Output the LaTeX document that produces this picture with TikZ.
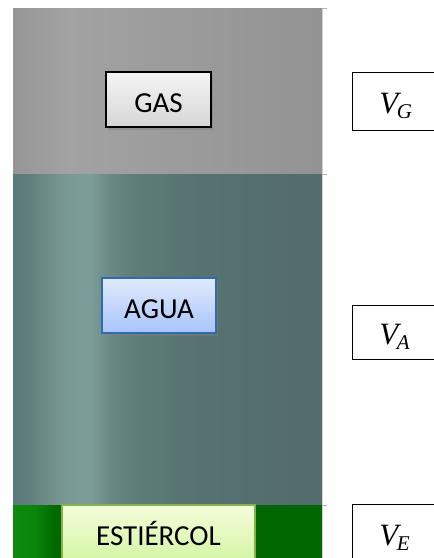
\documentclass[tikz,border=0pt]{standalone}
\usepackage{fontspec}
\setmainfont{Carlito}
\newfontfamily\vfont{Liberation Serif}
\usetikzlibrary{shadows}
\definecolor{wA}{HTML}{5A7A77}
\definecolor{wB}{HTML}{617F7C}
\definecolor{wC}{HTML}{7A9995}
\definecolor{wD}{HTML}{7D9D99}
\definecolor{wE}{HTML}{6A8985}
\definecolor{wF}{HTML}{5E7C79}
\definecolor{wG}{HTML}{567270}
\definecolor{wH}{HTML}{536B6B}
\definecolor{gA}{HTML}{969696}
\definecolor{gB}{HTML}{A2A2A2}
\definecolor{gC}{HTML}{A0A0A0}
\definecolor{gD}{HTML}{939393}
\definecolor{eA}{HTML}{0E8A0E}
\definecolor{eB}{HTML}{0A850A}
\definecolor{eC}{HTML}{006A00}
\definecolor{eD}{HTML}{006600}
\pgfdeclarehorizontalshading{watershade}{100bp}{color(0bp)=(wA); color(25bp)=(wA); color(27.75bp)=(wB); color(33.4bp)=(wC); color(37.5bp)=(wD); color(40.7bp)=(wE); color(44.75bp)=(wF); color(55.25bp)=(wG); color(75bp)=(wH); color(100bp)=(wH)}
\pgfdeclarehorizontalshading{gasshade}{100bp}{color(0bp)=(gA); color(25bp)=(gA); color(34bp)=(gB); color(39bp)=(gC); color(75bp)=(gD); color(100bp)=(gD)}
\pgfdeclarehorizontalshading{greenshade}{100bp}{color(0bp)=(eA); color(25bp)=(eA); color(28.5bp)=(eB); color(31.8bp)=(eC); color(75bp)=(eD); color(100bp)=(eD)}
\newcommand{\vsym}[1]{{\vfont\itshape V\kern-1.5pt\raisebox{-5pt}{\fontsize{21}{24}\selectfont #1}}}
\tikzset{
  basebox/.style={rectangle, font=\fontsize{29}{34}\selectfont, inner sep=0pt,
    text height=25pt, text depth=0pt, minimum height=55pt},
  labelbox/.style={basebox,
    drop shadow={opacity=0.45, shadow xshift=2pt, shadow yshift=-3pt}},
  gasbox/.style={labelbox, draw=black, line width=1.8pt, top color=gray!8, bottom color=gray!32},
  aguabox/.style={labelbox, draw=blue!55!cyan!60!black!80, line width=1.4pt, top color={rgb,255:red,224;green,234;blue,252}, bottom color={rgb,255:red,168;green,196;blue,250}},
  estbox/.style={basebox, draw={rgb,255:red,138;green,176;blue,74}, line width=1.4pt, top color={rgb,255:red,245;green,253;blue,220}, bottom color={rgb,255:red,213;green,245;blue,165}},
  vbox/.style={rectangle, draw=black, line width=0.8pt, fill=white, anchor=west, align=left,
    text width=60pt, inner xsep=27pt, inner ysep=0pt, text height=24pt, text depth=0pt,
    font=\fontsize{31}{36}\selectfont},
  tickmark/.style={draw=gray!60, line width=0.8pt}
}
\begin{document}
\begin{tikzpicture}[x=1pt,y=-1pt]
\useasboundingbox (0,0) rectangle (434,558);
\clip (0,0) rectangle (434,558);
% layers
\path[shading=gasshade] (13,8) rectangle (322,174);
\path[shading=watershade] (13,174) rectangle (322,505);
\path[shading=greenshade] (13,505) rectangle (322,560);
\draw[draw=gray!35, line width=0.8pt] (322,8) -- (322,560);
% ticks
\coordinate (t1) at (322,8);
\coordinate (t2) at (322,174);
\coordinate (t3) at (322,505);
\draw[tickmark] (t1) -- ++(5,0);
\draw[tickmark] (t2) -- ++(5,0);
\draw[tickmark] (t3) -- ++(5,0);
% boxes
\node[gasbox, minimum width=105pt] (gas) at (158.5,99.5) {GAS};
\node[aguabox, minimum width=114pt] (agua) at (159,305.5) {AGUA};
\node[estbox, minimum width=193pt] (est) at (158.5,532.5) {ESTIÉRCOL};
\node[vbox, minimum height=58pt] (vg) at (352,101) {\vsym{G}};
\node[vbox, minimum height=54pt] (va) at (352,332) {\vsym{A}};
\node[vbox, minimum height=58pt] (ve) at (352,533) {\vsym{E}};
\end{tikzpicture}
\end{document}
